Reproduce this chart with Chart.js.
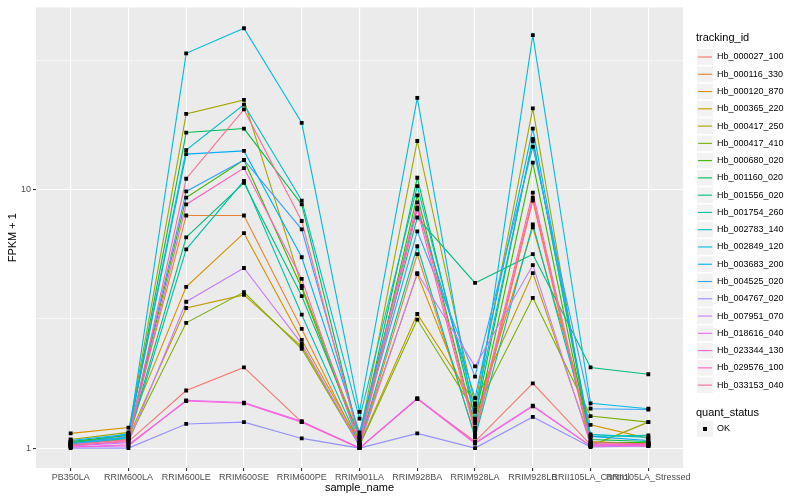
<!DOCTYPE html>
<html>
<head>
<meta charset="utf-8">
<script src="https://cdn.jsdelivr.net/npm/chart.js@4/dist/chart.umd.min.js"></script>
<style>
  body { margin: 0; background: #fff; }
  #wrap { width: 800px; height: 500px; }
</style>
</head>
<body>
<div id="wrap"><canvas id="myChart" width="800" height="500"></canvas></div>
<script>
// categories on the x axis
const sampleNames = ['PB350LA', 'RRIM600LA', 'RRIM600LE', 'RRIM600SE', 'RRIM600PE', 'RRIM901LA',
  'RRIM928BA', 'RRIM928LA', 'RRIM928LB', 'RRII105LA_Control', 'RRII105LA_Stressed'];

const trackingIds = ['Hb_000027_100', 'Hb_000116_330', 'Hb_000120_870', 'Hb_000365_220', 'Hb_000417_250',
  'Hb_000417_410', 'Hb_000680_020', 'Hb_001160_020', 'Hb_001556_020', 'Hb_001754_260',
  'Hb_002783_140', 'Hb_002849_120', 'Hb_003683_200', 'Hb_004525_020', 'Hb_004767_020',
  'Hb_007951_070', 'Hb_018616_040', 'Hb_023344_130', 'Hb_029576_100', 'Hb_033153_040'];

// ggplot hue palette, 20 levels
const lineColors = ['#F8766D', '#EA8331', '#D89000', '#C09B00', '#A3A500', '#7CAE00', '#39B600', '#00BB4E',
  '#00BF7D', '#00C1A3', '#00BFC4', '#00BAE0', '#00B0F6', '#35A2FF', '#9590FF', '#C77CFF',
  '#E76BF3', '#FA62DB', '#FF62BC', '#FF6C91'];

// FPKM + 1, one array per tracking_id
const hb000027_100 = [1.02, 1.06, 1.67, 2.05, 1.26, 1.00, 1.55, 1.06, 1.78, 1.03, 1.02];
const hb000116_330 = [1.05, 1.12, 7.93, 7.93, 2.89, 1.02, 5.62, 1.12, 9.06, 1.02, 1.04];
const hb000120_870 = [1.14, 1.20, 4.20, 6.78, 2.62, 1.05, 4.71, 1.29, 7.14, 1.23, 1.09];
const hb000365_220 = [1.06, 1.10, 3.48, 3.91, 2.47, 1.03, 3.30, 1.49, 4.75, 1.06, 1.04];
const hb000417_250 = [1.08, 1.15, 19.6, 22.2, 4.24, 1.10, 15.4, 1.46, 20.6, 1.02, 1.26];
const hb000417_410 = [1.04, 1.08, 3.05, 4.01, 2.42, 1.02, 3.14, 1.38, 3.81, 1.33, 1.26];
const hb000680_020 = [1.03, 1.10, 9.30, 13.0, 4.16, 1.05, 9.48, 1.20, 12.7, 1.05, 1.05];
const hb001160_020 = [1.06, 1.12, 16.6, 17.2, 8.75, 1.08, 11.1, 1.30, 15.7, 1.08, 1.06];
const hb001556_020 = [1.05, 1.10, 6.53, 10.6, 3.87, 1.10, 7.79, 4.35, 5.62, 2.05, 1.93];
const hb001754_260 = [1.03, 1.09, 5.87, 10.8, 3.28, 1.04, 6.03, 1.10, 7.33, 1.11, 1.12];
const hb002783_140 = [1.02, 1.14, 14.2, 21.3, 9.06, 1.30, 10.3, 1.41, 15.4, 1.13, 1.10];
const hb002849_120 = [1.04, 1.10, 33.6, 42.0, 18.1, 1.38, 22.6, 1.25, 39.5, 1.49, 1.42];
const hb003683_200 = [1.07, 1.13, 13.7, 14.1, 5.47, 1.15, 8.51, 1.56, 17.2, 1.11, 1.07];
const hb004525_020 = [1.03, 1.11, 9.83, 13.0, 7.01, 1.12, 6.89, 1.89, 14.6, 1.42, 1.41];
const hb004767_020 = [1.00, 1.00, 1.24, 1.26, 1.09, 1.00, 1.14, 1.00, 1.32, 1.01, 1.02];
const hb007951_070 = [1.02, 1.05, 3.68, 4.97, 2.53, 1.02, 4.75, 2.07, 5.10, 1.03, 1.03];
const hb018616_040 = [1.01, 1.02, 1.53, 1.50, 1.27, 1.00, 1.56, 1.05, 1.46, 1.02, 1.03];
const hb023344_130 = [1.01, 1.03, 1.52, 1.49, 1.26, 1.00, 1.55, 1.04, 1.45, 1.02, 1.02];
const hb029576_100 = [1.02, 1.07, 8.75, 12.1, 4.51, 1.03, 8.37, 1.15, 9.30, 1.04, 1.03];
const hb033153_040 = [1.03, 1.08, 11.0, 20.4, 7.55, 1.06, 8.91, 1.18, 9.73, 1.05, 1.04];

const seriesValues = [hb000027_100, hb000116_330, hb000120_870, hb000365_220, hb000417_250,
  hb000417_410, hb000680_020, hb001160_020, hb001556_020, hb001754_260,
  hb002783_140, hb002849_120, hb003683_200, hb004525_020, hb004767_020,
  hb007951_070, hb018616_040, hb023344_130, hb029576_100, hb033153_040];

// y axis breaks (log10), minor lines between them
const yMajorTicks = [1, 10];
const yMinorTicks = [Math.sqrt(10), Math.pow(10, 1.5)];

const FONT = '"Liberation Sans", Arial, sans-serif';

// lines: first series at the bottom, last on top (like ggplot)
const datasets = seriesValues.map((vals, i) => ({
  label: trackingIds[i],
  data: vals.map((v, j) => ({ x: j, y: v })),
  borderColor: lineColors[i],
  backgroundColor: lineColors[i],
  borderWidth: 1.1,
  pointRadius: 0,
  tension: 0,
  order: 1 + (seriesValues.length - 1 - i)
}));

// all points in black, drawn above the lines
datasets.push({
  label: 'OK',
  data: seriesValues.flatMap(vals => vals.map((v, j) => ({ x: j, y: v }))),
  showLine: false,
  pointStyle: 'rect',
  pointRadius: 2.7,
  pointBackgroundColor: '#000',
  pointBorderColor: '#000',
  pointBorderWidth: 0,
  order: 0
});

const panelBg = {
  id: 'panelBg',
  beforeDraw(chart) {
    const { ctx, chartArea: a } = chart;
    ctx.save();
    ctx.fillStyle = '#fff';
    ctx.fillRect(0, 0, chart.width, chart.height);
    ctx.fillStyle = '#EBEBEB';
    ctx.fillRect(a.left, a.top, a.right - a.left, a.bottom - a.top);
    ctx.restore();
  }
};

// ggplot-like legend on the right
const ggLegend = {
  id: 'ggLegend',
  afterDraw(chart) {
    const ctx = chart.ctx;
    const x0 = 697;
    ctx.save();
    ctx.textBaseline = 'middle';
    ctx.textAlign = 'left';
    ctx.fillStyle = '#000';
    ctx.font = '11px ' + FONT;
    ctx.fillText('tracking_id', 696, 38);
    ctx.font = '9px ' + FONT;
    trackingIds.forEach((id, i) => {
      const cy = 57 + i * 17.27;
      ctx.fillStyle = '#F2F2F2';
      ctx.fillRect(x0, cy - 7.8, 16, 15.6);
      ctx.strokeStyle = lineColors[i];
      ctx.lineWidth = 1.1;
      ctx.beginPath();
      ctx.moveTo(x0 + 1, cy);
      ctx.lineTo(x0 + 15, cy);
      ctx.stroke();
      ctx.fillStyle = '#000';
      ctx.fillText(id, 717, cy);
    });
    ctx.font = '11px ' + FONT;
    ctx.fillText('quant_status', 696, 413);
    ctx.fillStyle = '#F2F2F2';
    ctx.fillRect(x0, 429 - 7.8, 16, 15.6);
    ctx.fillStyle = '#000';
    ctx.fillRect(x0 + 6, 427, 4, 4);
    ctx.font = '9px ' + FONT;
    ctx.fillText('OK', 717, 429);
    ctx.restore();
  }
};

new Chart(document.getElementById('myChart').getContext('2d'), {
  type: 'line',
  data: { datasets: datasets },
  options: {
    responsive: false,
    animation: false,
    layout: { padding: { top: 5, right: 117, bottom: 0, left: 0 } },
    plugins: {
      legend: { display: false },
      tooltip: { enabled: false }
    },
    scales: {
      x: {
        type: 'linear',
        min: -0.6,
        max: 10.6,
        afterBuildTicks: scale => { scale.ticks = sampleNames.map((_, i) => ({ value: i })); },
        afterFit: scale => { scale.height = 32; },
        ticks: {
          autoSkip: false,
          maxRotation: 0,
          padding: 1,
          color: '#4D4D4D',
          font: { family: FONT, size: 9 },
          callback: v => sampleNames[v]
        },
        grid: { color: '#fff', lineWidth: 1.1, tickLength: 3, tickColor: '#333' },
        border: { display: false },
        title: {
          display: true,
          text: 'sample_name',
          color: '#000',
          font: { family: FONT, size: 11 },
          padding: { top: 0, bottom: 5 }
        }
      },
      y: {
        type: 'logarithmic',
        min: Math.pow(10, -0.077),
        max: Math.pow(10, 1.704),
        afterBuildTicks: scale => {
          scale.ticks = yMajorTicks.concat(yMinorTicks).sort((a, b) => a - b).map(v => ({ value: v }));
        },
        afterFit: scale => { scale.width = 36; },
        ticks: {
          padding: 2,
          color: '#4D4D4D',
          font: { family: FONT, size: 9 },
          callback: v => (yMajorTicks.includes(v) ? String(v) : '')
        },
        grid: {
          color: '#fff',
          lineWidth: c => (c.tick && yMajorTicks.includes(c.tick.value) ? 1.1 : 0.55),
          tickLength: 3,
          tickColor: c => (c.tick && yMajorTicks.includes(c.tick.value) ? '#333' : 'rgba(0,0,0,0)')
        },
        border: { display: false },
        title: {
          display: true,
          text: 'FPKM + 1',
          color: '#000',
          font: { family: FONT, size: 11 },
          padding: { top: 6, bottom: 0 }
        }
      }
    }
  },
  plugins: [panelBg, ggLegend]
});
</script>
</body>
</html>
